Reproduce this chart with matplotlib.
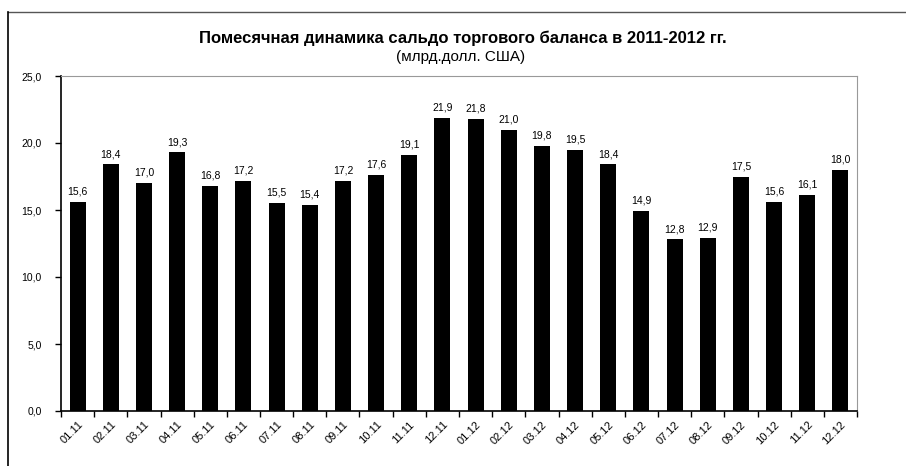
import matplotlib
matplotlib.use("Agg")
import matplotlib.pyplot as plt
from matplotlib.lines import Line2D
import numpy as np

months = ["01.11", "02.11", "03.11", "04.11", "05.11", "06.11", "07.11", "08.11",
          "09.11", "10.11", "11.11", "12.11", "01.12", "02.12", "03.12", "04.12",
          "05.12", "06.12", "07.12", "08.12", "09.12", "10.12", "11.12", "12.12"]
saldo = [15.6, 18.4, 17.0, 19.3, 16.8, 17.2, 15.5, 15.4, 17.2, 17.6, 19.1, 21.9,
         21.8, 21.0, 19.8, 19.5, 18.4, 14.9, 12.8, 12.9, 17.5, 15.6, 16.1, 18.0]
y_ticks = [0, 5, 10, 15, 20, 25]

plt.rcParams['font.family'] = ['Liberation Sans', 'DejaVu Sans']

def fmt(v):
    return f"{v:.1f}".replace(".", ",")

fig = plt.figure(figsize=(9.06, 4.66), dpi=100)
ax = fig.add_axes([61/906, 1 - 411/466, (857 - 61)/906, (411 - 76)/466])

x = np.arange(len(months))
ax.bar(x, saldo, width=0.48, color="black")
for xi, v in zip(x, saldo):
    ax.text(xi, v + 0.4, fmt(v), ha="center", va="bottom", fontsize=7.5)

ax.set_xlim(-0.5, len(months) - 0.5)
ax.set_ylim(0, 25)
ax.set_yticks(y_ticks)
ax.set_yticklabels([fmt(t) for t in y_ticks], fontsize=7.5)
ax.set_xticks(np.arange(len(months) + 1) - 0.5)
ax.set_xticklabels([])
ax.set_xticks(x, minor=True)
ax.set_xticklabels(months, minor=True, rotation=45, ha="right", rotation_mode="anchor", fontsize=8)
ax.tick_params(axis="x", which="minor", length=0, pad=6)
ax.tick_params(axis="both", which="major", length=4, width=1, direction="out")
ax.tick_params(axis="y", pad=10)

for side in ["top", "right"]:
    ax.spines[side].set_color("#999999")
    ax.spines[side].set_linewidth(0.8)
for side in ["left", "bottom"]:
    ax.spines[side].set_color("black")
    ax.spines[side].set_linewidth(1.2)

fig.text(463/906, 1 - 38/466, "Помесячная динамика сальдо торгового баланса в 2011-2012 гг.",
         ha="center", va="center", fontsize=12, fontweight="bold")
fig.text(461/906, 1 - 57/466, "(млрд.долл. США)", ha="center", va="center", fontsize=11)

# outer frame
fig.add_artist(Line2D([8/906, 1], [1 - 12/466, 1 - 12/466], transform=fig.transFigure,
                      color="#555555", linewidth=1))
fig.add_artist(Line2D([8/906, 8/906], [0, 1 - 12/466], transform=fig.transFigure,
                      color="black", linewidth=1.2))

fig.savefig("out.png", dpi=100)
